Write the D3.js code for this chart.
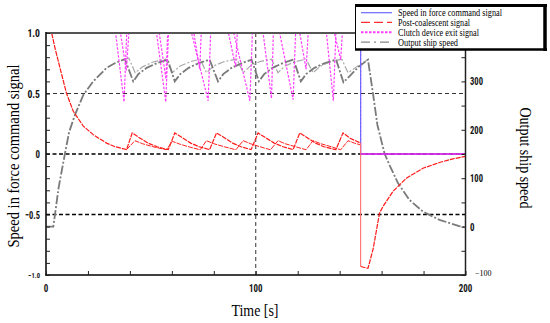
<!DOCTYPE html>
<html><head><meta charset="utf-8">
<script src="https://cdn.jsdelivr.net/npm/d3@7"></script>
<style>
html,body{margin:0;padding:0;background:#fff;}
svg{display:block;}
.tk{font-family:"Roboto Condensed","DejaVu Sans Condensed",sans-serif;font-weight:bold;fill:#111;}
.serif{font-family:"Liberation Serif","Times New Roman",serif;fill:#000;}
</style></head>
<body><svg id="c" width="550" height="323"></svg>
<script>
// ---- data (time [s], value) ----
const xTicks = [0, 100, 200];
const leftTicks = [1.0, 0.5, 0, -0.5, -1.0];
const leftTickLabels = ["1.0", "0.5", "0", "\u22120.5", "\u22121.0"];
const rightTicks = [300, 200, 100, 0, -100];
const rightTickLabels = ["300", "200", "100", "0", "\u2212100"];
const legendLabels = ["Speed in force command signal", "Post-coalescent signal", "Clutch device exit signal", "Output ship speed"];

// Speed in force command signal (left axis)
const commandSignal = [[0,1],[150,1],[150,0],[200,0]];

// Post-coalescent signal, run A (left axis)
const postA = [[0,1],[2.7,1],[4.5,0.86],[6.7,0.71],[9.8,0.5],[13,0.353],[17.8,0.23],[22.5,0.16],[28.9,0.09],[33,0.06],[38.4,0.036],
 [41.1,0.174],[44,0.14],[48.7,0.09],[53,0.06],[58.3,0.036],
 [61.4,0.174],[64.5,0.14],[69,0.09],[73,0.06],[78,0.036],
 [81.3,0.174],[84.5,0.14],[89,0.09],[93,0.06],[97.8,0.036],
 [101.1,0.174],[104.2,0.14],[108.8,0.09],[113,0.06],[117.8,0.036],
 [121,0.174],[124,0.14],[128.5,0.09],[132.5,0.06],[138.2,0.036],
 [141.6,0.174],[145,0.13],[150,0.09]];
// Post-coalescent signal, run B (left axis)
const postB = [[38.4,0.036],[42.4,0.11],[46,0.085],[51,0.06],[57.4,0.035],
 [60.2,0.105],[64,0.08],[69,0.055],[73.5,0.035],
 [76.5,0.11],[80,0.085],[85,0.06],[90.5,0.035],
 [94,0.11],[97.5,0.085],[102,0.06],[107,0.035],
 [110.6,0.11],[114,0.085],[119,0.06],[124,0.035],
 [127.3,0.11],[131,0.085],[136,0.06],[140.5,0.035],
 [144,0.11],[147,0.09],[150,0.075]];
// after the reversal command
const postReverse = [[150,0.09],[150,-0.93],[153.5,-0.945],[155.9,-0.79],[159,-0.49],[160.6,-0.435],[165.4,-0.31],[171.8,-0.2],[179.7,-0.118],[187.6,-0.07],[194,-0.04],[200,-0.02]];

// Clutch device exit signal (left axis)
const clutchA = [[0,1],[33.2,1],[37.2,0.43],[38.5,1],[52.7,1],[57.1,0.43],[58.4,1],[69.4,1],[77.3,0.44],[78.5,1],
 [89.5,1],[97.2,0.44],[98.4,1],[111.4,1],[117.8,0.45],[119,1],[133.7,1],[137,0.44],[138.2,1],[150,1],[150,0],[200,0]];
const clutchB = [[0,1],[35.5,1],[38.3,0.69],[39.5,1],[54,1],[57.2,0.62],[58,1],[70.5,1],[73.3,0.7],[74,1],
 [87,1],[90.4,0.72],[91.2,1],[103.5,1],[107.5,0.46],[108.4,1],[121,1],[124,0.7],[125,1],[137.5,1],[140.5,0.78],[141.3,1],[150,1]];

// Output ship speed (right axis)
const speedA = [[0,0],[3.5,0],[6,80],[9,150],[11,195],[13.8,231],[17.8,272],[22.5,300],[28.9,328],[33,338],[37.6,346],
 [41.6,300],[44,315],[48,328],[53,338],[58,345],
 [61.4,300],[64,315],[68,328],[73,338],[78,345],
 [82,300],[84.5,315],[88.5,328],[93.5,338],[98,345],
 [101.5,300],[104,315],[108,328],[113,338],[118,345],
 [121.5,300],[124,315],[128,328],[133,338],[138.3,345],
 [141.8,298],[145,312],[149,330],[153.5,345],[155.9,275],[158,210],[161.4,151],[164,125],[167.8,90],[173.3,55],[179.7,31],[187.6,14],[197,1],[200,-2]];
const speedB = [[37.6,346],[39.5,348],[42.5,318],[46,330],[51,340],[57,346],
 [60.2,318],[64,332],[69,341],[73.5,346],
 [76.5,318],[80,332],[85,341],[91,346],
 [94,318],[97.5,332],[102,341],[107.5,346],
 [110.6,318],[114,332],[119,341],[124,346],
 [127.3,318],[131,332],[136,341],[141,346],
 [144,318],[148,330],[150,336],[153.5,345]];

// ---- drawing ----
const svg = d3.select("#c");
const x = d3.scaleLinear().domain([0,200]).range([46,465.5]);
const yL = d3.scaleLinear().domain([-1,1]).range([275,33]);
const yR = d3.scaleLinear().domain([-100,400]).range([275,33]);

const lineL = d3.line().x(d=>x(d[0])).y(d=>yL(d[1]));
const lineR = d3.line().x(d=>x(d[0])).y(d=>yR(d[1]));

// guides
const g = svg.append("g");
g.append("line").attr("x1",x(0)).attr("x2",x(200)).attr("y1",yL(0.5)).attr("y2",yL(0.5))
 .attr("stroke","#333").attr("stroke-width",1).attr("stroke-dasharray","4,3");
g.append("line").attr("x1",x(0)).attr("x2",x(200)).attr("y1",yL(0)).attr("y2",yL(0))
 .attr("stroke","#000").attr("stroke-width",1.6).attr("stroke-dasharray","4,2.5");
g.append("line").attr("x1",x(0)).attr("x2",x(200)).attr("y1",yL(-0.5)).attr("y2",yL(-0.5))
 .attr("stroke","#000").attr("stroke-width",1.3).attr("stroke-dasharray","4,2.5");
g.append("line").attr("x1",x(100)).attr("x2",x(100)).attr("y1",33).attr("y2",275)
 .attr("stroke","#333").attr("stroke-width",1).attr("stroke-dasharray","4,3");

// series
const s = svg.append("g").attr("fill","none");
s.append("path").attr("d",lineR(speedB)).attr("stroke","#a8a8a8").attr("stroke-width",1.2).attr("stroke-dasharray","7,2,2,2");
s.append("path").attr("d",lineR(speedA)).attr("stroke","#7a7a7a").attr("stroke-width",1.8).attr("stroke-dasharray","9,2,2,2");
s.append("path").attr("d",lineL(clutchB)).attr("stroke","#ff3cff").attr("stroke-width",1.2).attr("stroke-dasharray","2.5,1.5");
s.append("path").attr("d",lineL(clutchA)).attr("stroke","#ff3cff").attr("stroke-width",1.2).attr("stroke-dasharray","2.5,1.5");
s.append("path").attr("d",lineL(commandSignal)).attr("stroke","#6a6aff").attr("stroke-width",1.2);
s.append("path").attr("d",lineL(postB)).attr("stroke","#ff2020").attr("stroke-width",1).attr("stroke-dasharray","5,1");
s.append("path").attr("d",lineL(postA)).attr("stroke","#ff1a1a").attr("stroke-width",1.2).attr("stroke-dasharray","5,1");
s.append("path").attr("d",lineL(postReverse.slice(0,2))).attr("stroke","#ff7070").attr("stroke-width",1.1);
s.append("path").attr("d",lineL(postReverse.slice(1))).attr("stroke","#ff1a1a").attr("stroke-width",1.2).attr("stroke-dasharray","5,1");
s.append("path").attr("d",lineL(clutchA.slice(-2))).attr("stroke","#e020e0").attr("stroke-width",1.6);

// frame
const f = svg.append("g");
f.append("line").attr("x1",46).attr("x2",465.5).attr("y1",33).attr("y2",33).attr("stroke","#555").attr("stroke-width",2);
f.append("line").attr("x1",46).attr("x2",46).attr("y1",32).attr("y2",275.5).attr("stroke","#000").attr("stroke-width",1.5);
f.append("line").attr("x1",45.3).attr("x2",466.2).attr("y1",275).attr("y2",275).attr("stroke","#000").attr("stroke-width",1.5);
f.append("line").attr("x1",465.5).attr("x2",465.5).attr("y1",32).attr("y2",275.5).attr("stroke","#222").attr("stroke-width",1.5);

// axes ticks (inward)
const axL = d3.axisRight(yL).tickValues(d3.range(-10,11).map(v=>v/10)).tickSize(4).tickFormat("");
svg.append("g").attr("transform","translate(46,0)").call(axL).call(a=>a.select(".domain").remove())
 .selectAll("line").attr("stroke","#222");
const axR = d3.axisLeft(yR).tickValues(d3.range(-100,401,50)).tickSize(4).tickFormat("");
svg.append("g").attr("transform","translate(465.5,0)").call(axR).call(a=>a.select(".domain").remove())
 .selectAll("line").attr("stroke","#222");
const axB = d3.axisTop(x).tickValues(d3.range(0,201,20)).tickSize(4).tickFormat("");
svg.append("g").attr("transform","translate(0,275)").call(axB).call(a=>a.select(".domain").remove())
 .selectAll("line").attr("stroke","#222");

// tick labels
const tl = svg.append("g");
const lenOf = t => t.length<=1 ? 4.5 : (t.length===3 ? 12.6 : 15);
leftTicks.forEach((v,i)=>{
  const small = (v===-1);
  const t = leftTickLabels[i];
  tl.append("text").attr("class","tk").attr("x",40).attr("y",yL(v)+(small?3:4))
    .attr("text-anchor","end").attr("font-size", small?8:11.5).attr("font-weight", small?"normal":"bold")
    .attr("textLength", small?11.7:lenOf(t)).attr("lengthAdjust","spacingAndGlyphs").text(t);
});
rightTicks.forEach((v,i)=>{
  const small = (v===-100);
  const t = rightTickLabels[i];
  tl.append("text").attr("class", small?"serif":"tk").attr("x", small?475:470).attr("y",yR(v)+(small?1:4))
    .attr("text-anchor","start").attr("font-size", small?8:11.5)
    .attr("textLength", small?16.5:(t.length===1?4.5:13)).attr("lengthAdjust","spacingAndGlyphs").text(t);
});
xTicks.forEach(v=>{
  const t = String(v);
  tl.append("text").attr("class","tk").attr("x",x(v)).attr("y",291.5)
    .attr("text-anchor","middle").attr("font-size",11.5)
    .attr("textLength", t.length===1?4.5:13.5).attr("lengthAdjust","spacingAndGlyphs").text(t);
});

// axis titles
svg.append("text").attr("class","serif").attr("x",255).attr("y",316).attr("text-anchor","middle").attr("font-size",16)
 .attr("textLength",47).attr("lengthAdjust","spacingAndGlyphs").text("Time [s]");
svg.append("text").attr("class","serif").attr("transform","translate(18.5,156) rotate(-90)").attr("text-anchor","middle").attr("font-size",16)
 .attr("textLength",183).attr("lengthAdjust","spacingAndGlyphs").text("Speed in force command signal");
svg.append("text").attr("class","serif").attr("transform","translate(520,158) rotate(90)").attr("text-anchor","middle").attr("font-size",16)
 .attr("textLength",101).attr("lengthAdjust","spacingAndGlyphs").text("Output ship speed");

// legend
const L = svg.append("g");
L.append("rect").attr("x",355.5).attr("y",4.5).attr("width",190).attr("height",45).attr("fill","#fff").attr("stroke","#000").attr("stroke-width",1);
L.append("line").attr("x1",355).attr("x2",547).attr("y1",5.5).attr("y2",5.5).attr("stroke","#000").attr("stroke-width",3);
L.append("line").attr("x1",545).attr("x2",545).attr("y1",4).attr("y2",51).attr("stroke","#000").attr("stroke-width",3.5);
L.append("line").attr("x1",355).attr("x2",547).attr("y1",49.5).attr("y2",49.5).attr("stroke","#000").attr("stroke-width",2.5);
const legStyles = [
  {c:"#6a6aff", w:1.2, d:null},
  {c:"#ff3030", w:1.2, d:"9,4"},
  {c:"#ff3cff", w:2, d:"2.5,1.5"},
  {c:"#888", w:1.3, d:"9,4,2,4"}
];
const rowsY = [12.7, 22.4, 32.3, 42.2];
const legLens = [104, 72, 81, 60];
legendLabels.forEach((lab,i)=>{
  const st = legStyles[i];
  const ln = L.append("line").attr("x1",361).attr("x2",392).attr("y1",rowsY[i]).attr("y2",rowsY[i])
    .attr("stroke",st.c).attr("stroke-width",st.w);
  if (st.d) ln.attr("stroke-dasharray",st.d);
  L.append("text").attr("class","serif").attr("x",398).attr("y",rowsY[i]+3.4).attr("font-size",10.5)
    .attr("textLength",legLens[i]).attr("lengthAdjust","spacingAndGlyphs").text(lab);
});
</script></body></html>
